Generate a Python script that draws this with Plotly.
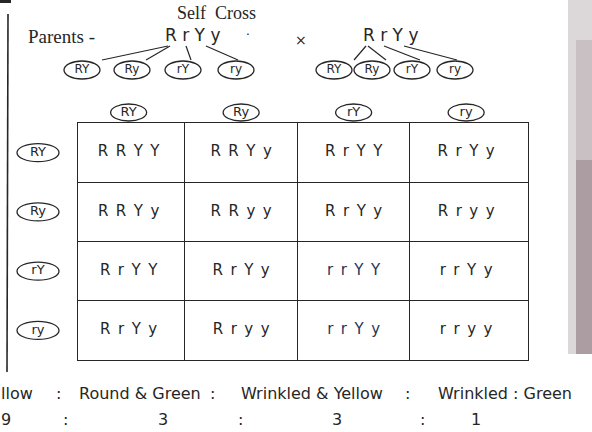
import plotly.graph_objects as go

# ---------------- data ----------------
title_text = "Self  Cross"
parent_label = "Parents -"
parent_genotype = "RrYy"
gametes = ["RY", "Ry", "rY", "ry"]
col_gametes = ["RY", "Ry", "rY", "ry"]
row_gametes = ["RY", "Ry", "rY", "ry"]
genotypes = [
    ["RRYY", "RRYy", "RrYY", "RrYy"],
    ["RRYy", "RRyy", "RrYy", "Rryy"],
    ["RrYY", "RrYy", "rrYY", "rrYy"],
    ["RrYy", "Rryy", "rrYy", "rryy"],
]
phenotypes = ["llow", "Round & Green", "Wrinkled & Yellow", "Wrinkled : Green"]
ratios = ["9", "3", "3", "1"]

# ---------------- style / layout ----------------
W, H = 592, 432
INK = "#262626"
BLUE = "#27345a"
HAND = "DejaVu Sans"
CURS = "Liberation Serif"
SP = "\u2002"

gx0, gx1, gy0, gy1 = 78, 528, 123, 360      # grid box in pixels
XR = (-0.45, 3.55)                            # grid x range (category units)
YR = (-0.5, 3.5)
colw = (gx1 - gx0) / (XR[1] - XR[0])
rowh = (gy1 - gy0) / (YR[1] - YR[0])

left_gx = [82, 132, 183, 236]
right_gx = [334, 372, 412, 455]
gy = 70
left_px, right_px, py = 192, 390, 35
header_y = 113
row_label_x = 38
pheno_x = [17, 140, 312, 505]
pheno_colon_x = [58, 212, 407]
ratio_x = [6, 163, 337, 476]
ratio_colon_x = [65, 240, 422]

fig = go.Figure()

# genotype cells
cx, cy, ct, cc = [], [], [], []
for r, row in enumerate(genotypes):
    for c, g in enumerate(row):
        cx.append(c); cy.append(r); ct.append(SP.join(g))
        cc.append(BLUE if g.startswith("rr") and c == 2 else INK)
fig.add_trace(go.Scatter(x=cx, y=cy, mode="text", text=ct, xaxis="x2", yaxis="y2",
                         textfont=dict(family=HAND, size=15, color=cc), hoverinfo="skip"))

# header / row-label pixel positions derived from the grid axes
hx = [gx0 + (i - XR[0]) * colw for i in range(len(col_gametes))]
ry = [gy0 + (i - YR[0]) * rowh for i in range(len(row_gametes))]

lab_x = left_gx + right_gx + hx + [row_label_x] * len(row_gametes)
lab_y = [gy] * 8 + [header_y] * len(col_gametes) + ry
lab_t = gametes + gametes + col_gametes + row_gametes
lab_s = [12] * 8 + [13] * 8
fig.add_trace(go.Scatter(x=lab_x, y=lab_y, mode="text", text=lab_t, xaxis="x", yaxis="y",
                         textfont=dict(family=HAND, size=lab_s, color=INK), hoverinfo="skip"))

shapes = []
lw = dict(color=INK, width=1.3)
for x in hx:
    shapes.append(dict(type="circle", xref="x", yref="y", x0=x - 18, x1=x + 18,
                       y0=header_y - 9, y1=header_y + 8, line=lw))
for y in ry:
    shapes.append(dict(type="circle", xref="x", yref="y", x0=row_label_x - 21,
                       x1=row_label_x + 21, y0=y - 9, y1=y + 9, line=lw))
for x in left_gx + right_gx:
    shapes.append(dict(type="circle", xref="x", yref="y", x0=x - 18, x1=x + 18,
                       y0=gy - 9, y1=gy + 9, line=lw))
# branch lines
for px, gxs in ((left_px, left_gx), (right_px, right_gx)):
    starts = [px - 24, px - 22, px - 6, px + 14]
    for s, x, off in zip(starts, gxs, [20, 14, 8, 2]):
        shapes.append(dict(type="line", xref="x", yref="y", x0=s, y0=py + 11,
                           x1=x + off, y1=gy - 10, line=dict(color=INK, width=1.2)))
# left margin line & corner mark
shapes.append(dict(type="line", xref="x", yref="y", x0=8, x1=7, y0=14, y1=372,
                   line=dict(color=INK, width=1.6)))
shapes.append(dict(type="line", xref="x", yref="y", x0=0, x1=11, y0=1.5, y1=1.5,
                   line=dict(color=INK, width=3)))
# background photo edge on the right
shapes.append(dict(type="rect", xref="x", yref="y", x0=568, x1=592, y0=0, y1=354,
                   fillcolor="#dcd8d9", line=dict(width=0), layer="below"))
shapes.append(dict(type="rect", xref="x", yref="y", x0=576, x1=592, y0=40, y1=160,
                   fillcolor="#c8c0c2", line=dict(width=0), layer="below"))
shapes.append(dict(type="rect", xref="x", yref="y", x0=576, x1=592, y0=160, y1=354,
                   fillcolor="#ab9da1", line=dict(width=0), layer="below"))

ann = []
ann.append(dict(x=216, y=13, text=title_text, font=dict(family=CURS, size=18, color=INK)))
ann.append(dict(x=61, y=36, text=parent_label, font=dict(family=CURS, size=19, color=INK)))
for px in (left_px, right_px):
    ann.append(dict(x=px, y=py, text=" ".join(parent_genotype),
                    font=dict(family=HAND, size=17, color=INK)))
ann.append(dict(x=301, y=40, text="×", font=dict(family=HAND, size=14, color=INK)))
ann.append(dict(x=248, y=35, text="·", font=dict(family=HAND, size=12, color=INK)))
for t, x in zip(phenotypes, pheno_x):
    ann.append(dict(x=x, y=393, text=t, font=dict(family=HAND, size=16, color=INK)))
for x in pheno_colon_x:
    ann.append(dict(x=x, y=393, text=":", font=dict(family=HAND, size=16, color=INK)))
for t, x in zip(ratios, ratio_x):
    ann.append(dict(x=x, y=419, text=t, font=dict(family=HAND, size=16, color=INK)))
for x in ratio_colon_x:
    ann.append(dict(x=x, y=419, text=":", font=dict(family=HAND, size=16, color=INK)))
for a in ann:
    a.update(xref="x", yref="y", showarrow=False)

grid_axis = dict(showgrid=True, gridcolor=INK, gridwidth=1.2, showline=True, mirror=True,
                 linecolor=INK, linewidth=1.3, zeroline=False, showticklabels=False, ticks="",
                 tickvals=[0.5, 1.5, 2.5], fixedrange=True)
fig.update_layout(
    width=W, height=H, margin=dict(l=0, r=0, t=0, b=0),
    paper_bgcolor="white", plot_bgcolor="rgba(0,0,0,0)", showlegend=False,
    xaxis=dict(range=[0, W], domain=[0, 1], visible=False, fixedrange=True),
    yaxis=dict(range=[H, 0], domain=[0, 1], visible=False, fixedrange=True),
    xaxis2=dict(grid_axis, range=list(XR), domain=[gx0 / W, gx1 / W], anchor="y2"),
    yaxis2=dict(grid_axis, range=[YR[1], YR[0]], domain=[1 - gy1 / H, 1 - gy0 / H], anchor="x2"),
    shapes=shapes, annotations=ann,
)
fig.write_html("out.html", config={"displayModeBar": False},
               post_script="document.body.style.margin='0px';document.body.style.overflow='hidden';")
